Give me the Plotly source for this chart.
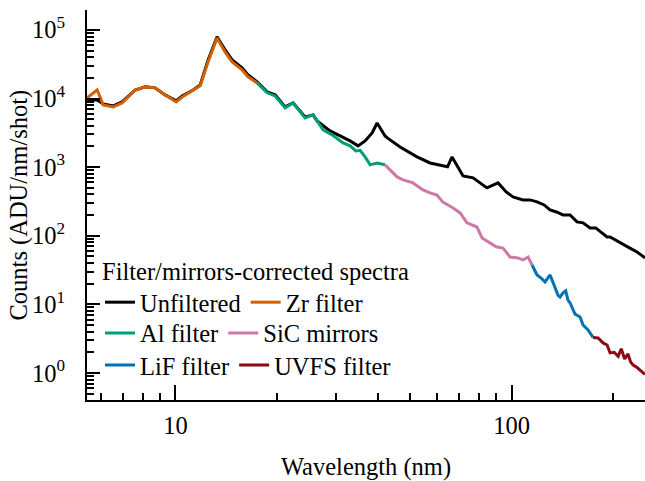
import plotly.graph_objects as go

# ---------------- data ----------------
unf_wl = [5.46, 5.85, 6.10, 6.53, 6.94, 7.59, 8.13, 8.70, 9.32, 10.05, 10.47, 11.29, 11.85,
          12.51, 13.30, 14.05, 14.75, 15.79, 16.45, 17.50, 18.74, 19.80, 21.20, 22.39, 24.31,
          25.68, 26.40, 28.85, 30.90, 33.09, 34.95, 36.67, 38.48, 39.81, 42.05, 42.7, 46.60,
          52.34, 57.22, 62.13, 64.5, 66.53, 70.28, 71.74, 76.83, 84.5, 91.2, 96.4, 101.0,
          108.2, 113.5, 119.1, 125.0, 130.2, 136.0, 142.3, 149.3, 156.6, 163.2, 171.2, 178.0,
          185.0, 192.4, 196.4, 205.0, 214.7, 225.0, 236.3, 243.0, 249.5]
unf_ct = [9550, 9550, 8340, 7800, 8920, 13300, 14800, 14300, 11300, 9230, 10900, 13300, 15800,
          36500, 79100, 51100, 36500, 27900, 22100, 17500, 12500, 11300, 7550, 8630, 5390,
          5770, 4710, 3370, 2850, 2410, 2040, 2410, 3150, 4400, 2850, 2670, 1970,
          1410, 1150, 1040, 1010, 1410, 910, 744, 697, 498, 589, 435, 368,
          333, 333, 311, 281, 238, 222, 201, 201, 159, 154, 130, 130,
          112, 96, 96, 86, 76, 66, 58, 53, 47.5]

zr_wl = [5.46, 5.85, 6.10, 6.53, 6.94, 7.59, 8.13, 8.70, 9.32, 10.05, 10.47, 11.29, 11.85,
         12.51, 13.30, 14.05, 14.75, 15.79, 16.45, 17.50]
zr_ct = [10200, 13300, 8070, 7550, 8630, 13300, 14800, 14300, 11300, 8920, 10500, 13300, 15300,
         34200, 76400, 47800, 34200, 26100, 20700, 16900]

al_wl = [17.50, 18.74, 19.80, 21.20, 22.39, 24.31, 25.68, 27.50, 29.25, 31.54, 33.09, 34.4,
         35.44, 36.67, 37.95, 39.81, 42.05]
al_ct = [16900, 12100, 10900, 7300, 8630, 5210, 5770, 3490, 2950, 2250, 2040, 1720,
         1760, 1410, 1080, 1150, 1080]

sic_wl = [42.05, 44.42, 45.65, 47.57, 50.93, 54.54, 57.22, 60.0, 62.4, 67.0, 70.3, 73.7,
          78.9, 81.7, 90.0, 94.3, 99.0, 104.5, 108.2, 112.0, 115.1]
sic_ct = [1080, 823, 720, 651, 589, 466, 421, 393, 311, 254, 215, 154,
          134, 93, 69, 66, 49, 47.5, 44.4, 49, 37.5]

lif_wl = [115.1, 119.1, 123.2, 125.8, 130.2, 134.7, 137.5, 139.4, 142.3, 144.9, 147.2,
          149.3, 154.5, 159.9, 163.2, 168.9, 174.8]
lif_ct = [37.5, 26.8, 23.5, 21.2, 26.8, 17.0, 13.5, 12.8, 14.7, 15.7, 11.5,
          10.5, 7.2, 6.55, 5.0, 4.23, 3.3]

uv_wl = [174.8, 180.9, 187.2, 192.4, 196.4, 202.0, 207.5, 212.0, 217.0, 222.0, 226.0, 230.0,
         236.3, 241.2, 249.5]
uv_ct = [3.3, 3.24, 2.74, 2.56, 1.96, 2.0, 1.75, 2.25, 1.6, 1.9, 1.45, 1.3,
         1.2, 1.1, 0.95]

series_names = ["Unfiltered", "Zr filter", "Al filter", "SiC mirrors", "LiF filter", "UVFS filter"]
series_colors = ["#000000", "#D55E00", "#009E73", "#CC79A7", "#0072B2", "#8B0A14"]
series_legend = ["legend", "legend", "legend2", "legend2", "legend3", "legend3"]
series_x = [unf_wl, zr_wl, al_wl, sic_wl, lif_wl, uv_wl]
series_y = [unf_ct, zr_ct, al_ct, sic_ct, lif_ct, uv_ct]

x_major = [10, 100]
x_minor = [6, 7, 8, 9, 20, 30, 40, 50, 60, 70, 80, 90, 200]
y_major = [1, 10, 100, 1000, 10000, 100000]
y_major_text = ["10<sup>0</sup>", "10<sup>1</sup>", "10<sup>2</sup>", "10<sup>3</sup>",
                "10<sup>4</sup>", "10<sup>5</sup>"]
y_minor = [m * 10 ** e for e in range(-1, 5) for m in range(2, 10)]
y_title = "Counts (ADU/nm/shot)"
x_title = "Wavelength (nm)"
legend_title = "Filter/mirrors-corrected spectra"

# ---------------- figure ----------------
FONT = "Liberation Serif, Times New Roman, DejaVu Serif, serif"
FS = 24.5
fig = go.Figure()
for name, col, lg, xs, ys in zip(series_names, series_colors, series_legend, series_x, series_y):
    fig.add_trace(go.Scatter(x=xs, y=ys, mode="lines", name=name, legend=lg,
                             line=dict(color=col, width=3)))

xr = [0.737, 2.397]
yr = [-0.394, 5.29]
lfont = dict(family=FONT, size=FS, color="black")

fig.add_annotation(text=y_title, textangle=-90, xref="paper", yref="paper",
                   x=-0.121, y=0.5, xanchor="center", yanchor="middle",
                   showarrow=False, font=lfont)

fig.update_layout(
    width=645, height=481,
    margin=dict(l=87, r=0, t=10, b=81),
    paper_bgcolor="white", plot_bgcolor="white",
    font=dict(family=FONT, size=FS, color="black"),
    xaxis=dict(type="log", range=xr, showgrid=False, zeroline=False,
               showline=True, linecolor="black", linewidth=2,
               ticks="inside", tickvals=x_major, ticktext=["10", "100"],
               ticklen=15, tickwidth=1.5, tickcolor="black", ticklabelstandoff=3,
               tickfont=lfont,
               minor=dict(tickmode="array", tickvals=x_minor, ticks="inside",
                          ticklen=7, tickwidth=1.5, tickcolor="black", showgrid=False),
               title=dict(text=x_title, standoff=19, font=lfont)),
    xaxis2=dict(type="log", range=xr, overlaying="x", side="top", anchor="y",
                showgrid=False, zeroline=False, showline=True, linecolor="black", linewidth=2,
                ticks="inside", tickvals=x_major, ticklen=13, tickwidth=1.5, tickcolor="black",
                showticklabels=False,
                minor=dict(tickmode="array", tickvals=x_minor, ticks="inside",
                           ticklen=5, tickwidth=1.5, tickcolor="black", showgrid=False)),
    yaxis=dict(type="log", range=yr, showgrid=False, zeroline=False,
               showline=True, linecolor="black", linewidth=2,
               ticks="inside", tickvals=y_major, ticktext=y_major_text,
               ticklen=13, tickwidth=1.5, tickcolor="black", ticklabelstandoff=15,
               tickfont=lfont,
               minor=dict(tickmode="array", tickvals=y_minor, ticks="inside",
                          ticklen=7, tickwidth=1.5, tickcolor="black", showgrid=False)),
    yaxis2=dict(type="log", range=yr, overlaying="y", side="right", anchor="x",
                showgrid=False, zeroline=False, showline=False,
                ticks="inside", tickvals=y_major, ticklen=5, tickwidth=1.5, tickcolor="black",
                showticklabels=False),
    legend=dict(orientation="h", x=0.0233, xanchor="left", y=0.39, yanchor="top",
                bgcolor="rgba(0,0,0,0)", itemwidth=30, font=lfont,
                title=dict(text=legend_title, side="top", font=lfont)),
    legend2=dict(orientation="h", x=0.0233, xanchor="left", y=0.1718, yanchor="middle",
                 bgcolor="rgba(0,0,0,0)", itemwidth=30, font=lfont),
    legend3=dict(orientation="h", x=0.0233, xanchor="left", y=0.0897, yanchor="middle",
                 bgcolor="rgba(0,0,0,0)", itemwidth=30, font=lfont),
)

fig.write_html("out.html")
